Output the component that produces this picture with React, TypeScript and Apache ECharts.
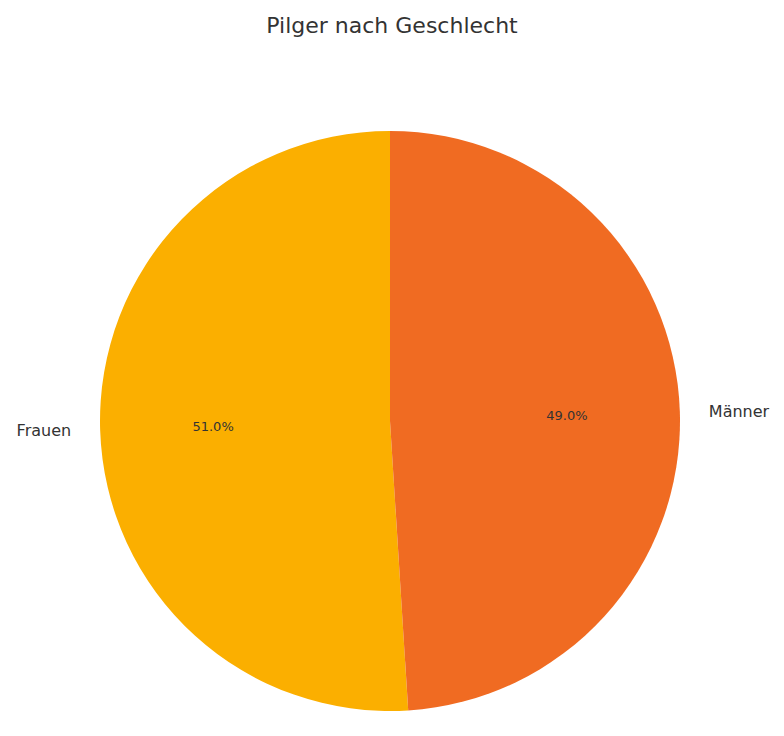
import React, { useEffect, useRef } from 'react';
import * as echarts from 'echarts';

const categories = ['Frauen', 'Männer'];
const shares = [51.0, 49.0];
const colors = ['#FBAF00', '#F06B22'];

const App: React.FC = () => {
  const chartRef = useRef<HTMLDivElement>(null);

  useEffect(() => {
    document.body.style.margin = '0';
    if (!chartRef.current) return;
    const chart = echarts.init(chartRef.current, undefined, { renderer: 'svg' });

    const data = categories.map((name, i) => ({
      name,
      value: shares[i],
      itemStyle: { color: colors[i] }
    }));
    const total = shares.reduce((a, b) => a + b, 0);

    const option = {
      animation: false,
      backgroundColor: '#ffffff',
      textStyle: { fontFamily: 'DejaVu Sans' },
      title: {
        text: 'Pilger nach Geschlecht',
        left: 'center',
        top: 9,
        textStyle: {
          fontFamily: 'DejaVu Sans',
          fontSize: 22,
          fontWeight: 'normal',
          color: '#333333'
        }
      },
      series: [
        {
          // wedges + outer category labels
          type: 'pie',
          center: [390, 421],
          radius: [0, 290],
          startAngle: 90,
          clockwise: false,
          avoidLabelOverlap: false,
          data,
          itemStyle: { borderWidth: 0 },
          label: {
            show: true,
            position: 'outside',
            formatter: '{b}',
            fontFamily: 'DejaVu Sans',
            fontSize: 16,
            color: '#333333'
          },
          labelLine: { show: false, length: 24, length2: 0 },
          emphasis: { disabled: true }
        },
        {
          // transparent ring that only carries the percentage labels
          type: 'pie',
          center: [390, 421],
          radius: [0, 348],
          startAngle: 90,
          clockwise: false,
          silent: true,
          avoidLabelOverlap: false,
          data: categories.map((name, i) => ({ name, value: shares[i] })),
          itemStyle: { color: 'transparent', borderWidth: 0 },
          label: {
            show: true,
            position: 'inside',
            formatter: (p: any) => ((p.value / total) * 100).toFixed(1) + '%',
            fontFamily: 'DejaVu Sans',
            fontSize: 13,
            color: '#333333'
          },
          labelLine: { show: false },
          emphasis: { disabled: true }
        }
      ]
    } as any;

    chart.setOption(option);
    return () => chart.dispose();
  }, []);

  return <div ref={chartRef} style={{ width: 784, height: 736 }} />;
};

export default App;
